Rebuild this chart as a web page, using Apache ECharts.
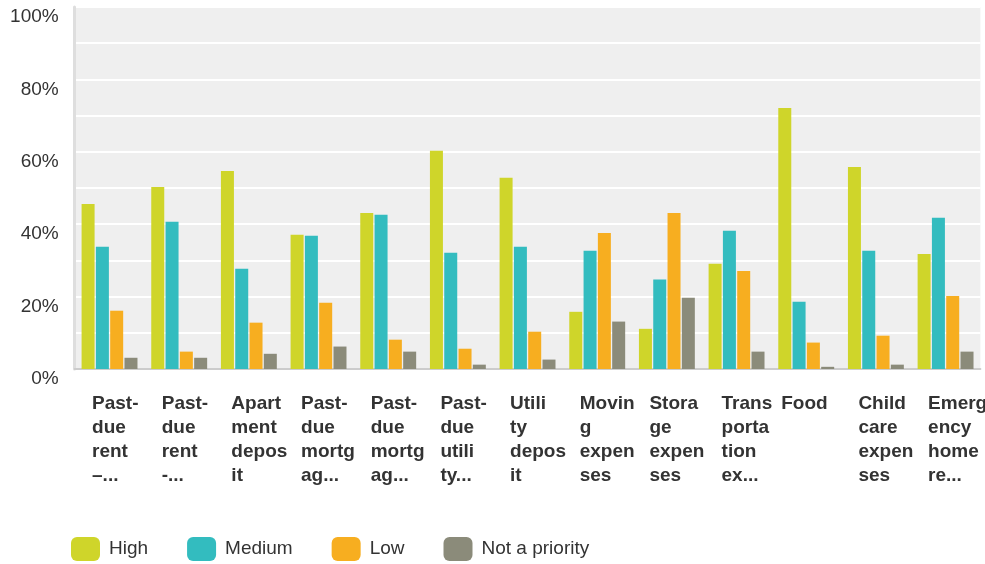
<!DOCTYPE html>
<html>
<head>
<meta charset="utf-8">
<script src="https://cdn.jsdelivr.net/npm/echarts@6/dist/echarts.min.js"></script>
<style>
html,body{margin:0;padding:0;background:#fff;}
#chart{width:985px;height:564px;}
</style>
</head>
<body>
<div id="chart"></div>
<script>
var categories = [
  "Past-\ndue\nrent\n–...",
  "Past-\ndue\nrent\n-...",
  "Apart\nment\ndepos\nit",
  "Past-\ndue\nmortg\nag...",
  "Past-\ndue\nmortg\nag...",
  "Past-\ndue\nutili\nty...",
  "Utili\nty\ndepos\nit",
  "Movin\ng\nexpen\nses",
  "Stora\nge\nexpen\nses",
  "Trans\nporta\ntion\nex...",
  "Food",
  "Child\ncare\nexpen\nses",
  "Emerg\nency\nhome\nre..."
];
var seriesNames = ["High", "Medium", "Low", "Not a priority"];
var high     = [45.6, 50.3, 54.7, 37.1, 43.1, 60.3, 52.8, 15.8, 11.1, 29.1, 72.1, 55.8, 31.8];
var medium   = [33.8, 40.7, 27.7, 36.8, 42.6, 32.1, 33.8, 32.7, 24.7, 38.2, 18.6, 32.7, 41.8];
var low      = [16.1, 4.8, 12.8, 18.3, 8.1, 5.6, 10.3, 37.6, 43.1, 27.1, 7.3, 9.2, 20.2];
var notPrio  = [3.1, 3.1, 4.2, 6.2, 4.8, 1.2, 2.6, 13.1, 19.7, 4.8, 0.6, 1.2, 4.8];
var yTicks = [0, 20, 40, 60, 80, 100];

var colors = ["#cfd52a", "#33bcbf", "#f7ae20", "#8b8b7a"];
var FONT = 'Liberation Sans, Arial, sans-serif';
function labelStyle(w) {
  return {width: w, align: 'left', fontSize: 19, fontWeight: 'bold', lineHeight: 24, color: '#333', fontFamily: FONT};
}
var styleKey = {9: 't', 10: 'f'};

var chart = echarts.init(document.getElementById('chart'), null, {renderer: 'canvas'});
var values = [high, medium, low, notPrio];
chart.setOption({
  animation: false,
  color: colors,
  grid: {
    left: 74.7, width: 905.7, top: 7, bottom: 195,
    containLabel: false,
    outerBoundsMode: 'none',
    show: true, backgroundColor: '#efefef', borderWidth: 0
  },
  legend: {
    left: 66, top: 532,
    icon: 'roundRect',
    itemWidth: 29, itemHeight: 24, itemGap: 39,
    textStyle: {fontSize: 19, color: '#333', fontFamily: FONT, padding: [0, 0, 0, 4]},
    data: seriesNames
  },
  xAxis: {
    type: 'category',
    data: categories,
    axisLine: {show: true, lineStyle: {color: '#cccccc', width: 2}},
    axisTick: {show: false},
    splitLine: {show: false},
    axisLabel: {
      interval: 0,
      margin: 23,
      align: 'center',
      verticalAlign: 'top',
      fontSize: 19,
      fontWeight: 'bold',
      lineHeight: 24,
      color: '#333',
      fontFamily: FONT,
      hideOverlap: false,
      formatter: function (value, idx) {
        var k = styleKey.hasOwnProperty(idx) ? styleKey[idx] : 'a';
        return value.split('\n').map(function (l) { return '{' + k + '|' + l + '}'; }).join('\n');
      },
      rich: {
        a: labelStyle(35),
        t: labelStyle(30),
        f: labelStyle(50)
      }
    }
  },
  yAxis: {
    type: 'value',
    min: 0, max: 100, interval: 10,
    axisLine: {show: true, lineStyle: {color: '#dedede', width: 3}},
    axisTick: {show: false},
    splitLine: {show: true, lineStyle: {color: '#ffffff', width: 2}},
    axisLabel: {
      margin: 16,
      fontSize: 19,
      color: '#333',
      fontFamily: FONT,
      verticalAlign: 'top',
      lineHeight: 20,
      formatter: function (v) { return yTicks.indexOf(v) >= 0 ? v + '%' : ''; }
    }
  },
  series: seriesNames.map(function (n, i) {
    return {
      name: n,
      type: 'bar',
      data: values[i],
      barWidth: 13,
      barGap: '10%',
      itemStyle: {color: colors[i]}
    };
  })
});
</script>
</body>
</html>
